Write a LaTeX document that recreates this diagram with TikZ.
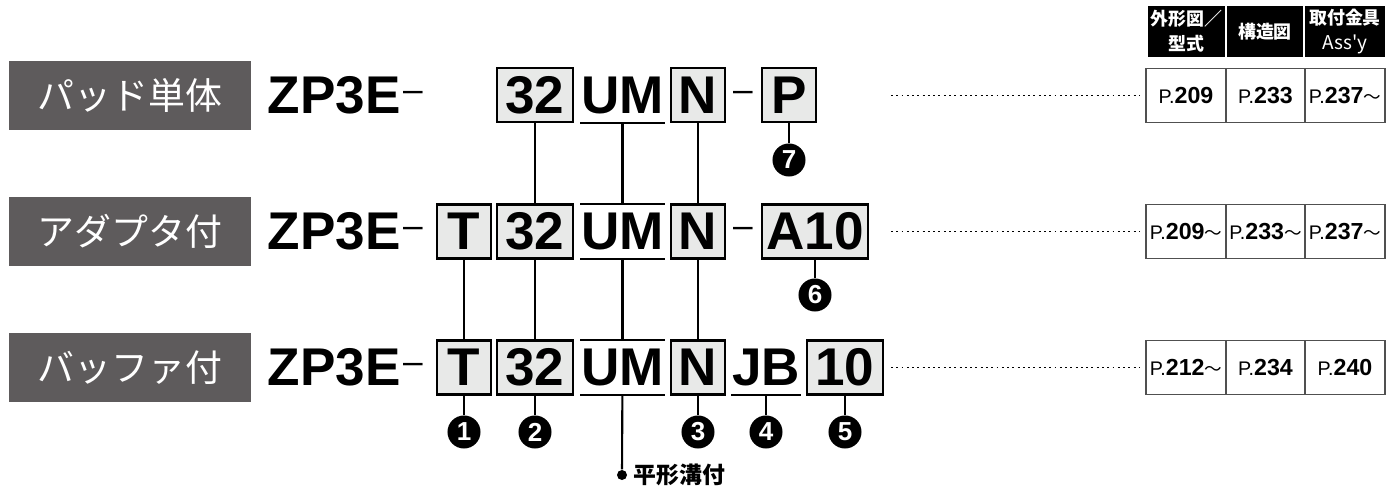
\documentclass[tikz,border=0pt]{standalone}
\usepackage{fontspec}
\setmainfont{Liberation Sans}
\newfontfamily\jpfont{Noto Sans CJK JP}
\definecolor{tagfill}{RGB}{94,91,92}
\definecolor{codefill}{RGB}{232,233,232}
\definecolor{cellline}{RGB}{80,80,80}
\newcommand\codesize{\fontsize{15.1}{18}\selectfont\bfseries}
\newcommand\tagsize{\jpfont\fontsize{10.5}{12}\selectfont}
\newcommand\numsize{\fontsize{7.4}{8}\selectfont\bfseries}
\newcommand\headsize{\jpfont\bfseries\fontsize{5.1}{7.1}\selectfont}
\newcommand\wave{{\jpfont\fontsize{5}{6}\selectfont 〜}}
\newcommand\pg[1]{{\fontsize{5.6}{8}\selectfont P.}{\fontsize{6.6}{8}\selectfont\bfseries #1}}

\begin{document}
\begin{tikzpicture}[x=0.01cm,y=-0.01cm,
  tag/.style={fill=tagfill,text=white,minimum width=2.42cm,minimum height=0.69cm,inner sep=0pt,font=\tagsize},
  model/.style={anchor=west,inner sep=0pt,font=\codesize},
  hyph/.style={anchor=base,inner sep=0pt,font=\fontsize{10}{12}\selectfont},
  code/.style={draw=black,fill=codefill,line width=0.6pt,minimum height=0.54cm,inner sep=0pt,font=\codesize},
  bare/.style={minimum height=0.54cm,inner sep=0pt,font=\codesize},
  bar/.style={line width=0.6pt},
  link/.style={line width=0.6pt},
  num/.style={circle,fill=black,text=white,minimum size=0.33cm,inner sep=0pt,font=\numsize},
  leader/.style={line width=0.55pt,dash pattern=on 0.55pt off 0.95pt,shorten >=1.7pt},
  cell/.style={draw=cellline,line width=0.45pt,minimum height=0.54cm,inner sep=0pt},
  head/.style={fill=black,text=white,minimum height=0.51cm,inner sep=0pt,align=center,font=\headsize}]
\useasboundingbox (0,0) rectangle (1396,491);

\node[tag] (pad) at (130,95.5) {パッド単体};
\node[tag] (adp) at (130,231.5) {アダプタ付};
\node[tag] (buf) at (130,367.5) {バッファ付};

\node[model] (zp1) at (267,95.5) {ZP3E};
\node[model] (zp2) at (267,231.5) {ZP3E};
\node[model] (zp3) at (267,367.5) {ZP3E};
\node[hyph] (da1) at (413,102) {–};
\node[hyph] (da2) at (413,238) {–};
\node[hyph] (da3) at (413,374) {–};

\node[code,minimum width=0.76cm] (sz1) at (535,95) {32};
\node[bare,minimum width=0.83cm] (um1) at (622.5,95) {UM};
\node[code,minimum width=0.54cm] (nn1) at (698,95) {N};
\node[hyph] (db1) at (743,102) {–};
\node[code,minimum width=0.54cm] (pp1) at (789,95) {P};

\node[code,minimum width=0.54cm] (tt2) at (464,231.5) {T};
\node[code,minimum width=0.76cm] (sz2) at (535,231.5) {32};
\node[bare,minimum width=0.83cm] (um2) at (622.5,231.5) {UM};
\node[code,minimum width=0.54cm] (nn2) at (698,231.5) {N};
\node[hyph] (db2) at (743,238) {–};
\node[code,minimum width=1.06cm] (aa2) at (815,231.5) {A10};

\node[code,minimum width=0.54cm] (tt3) at (464,367.5) {T};
\node[code,minimum width=0.76cm] (sz3) at (535,367.5) {32};
\node[bare,minimum width=0.83cm] (um3) at (622.5,367.5) {UM};
\node[code,minimum width=0.54cm] (nn3) at (698,367.5) {N};
\node[bare,minimum width=0.68cm] (jb3) at (766,367.5) {JB};
\node[code,minimum width=0.76cm] (ten3) at (845,367.5) {10};

\draw[bar] (um1.south west) -- (um1.south east);
\draw[bar] (um2.north west) -- (um2.north east);
\draw[bar] (um2.south west) -- (um2.south east);
\draw[bar] (um3.north west) -- (um3.north east);
\draw[bar] (um3.south west) -- (um3.south east);
\draw[bar] (jb3.south west) -- (jb3.south east);

\node[num] (c7) at (789,160) {7};
\node[num] (c6) at (815,295) {6};
\node[num] (c1) at (464,432) {1};
\node[num] (c2) at (535,432) {2};
\node[num] (c3) at (698,432) {3};
\node[num] (c4) at (766,432) {4};
\node[num] (c5) at (845,432) {5};
\node[circle,fill=black,minimum size=0.1cm,inner sep=0pt] (flat) at (622,475) {};
\node[anchor=west,inner sep=0pt,font=\jpfont\bfseries\fontsize{6.5}{8}\selectfont] (flattxt) at (633,475) {平形溝付};

\draw[link] (sz1) -- (sz2);
\draw[link] (sz2) -- (sz3);
\draw[link] (sz3) -- (c2);
\draw[link] (um1) -- (um2);
\draw[link] (um2) -- (um3);
\draw[link] (um3) -- (flat);
\draw[link] (nn1) -- (nn2);
\draw[link] (nn2) -- (nn3);
\draw[link] (nn3) -- (c3);
\draw[link] (tt2) -- (tt3);
\draw[link] (tt3) -- (c1);
\draw[link] (pp1) -- (c7);
\draw[link] (aa2) -- (c6);
\draw[link] (jb3) -- (c4);
\draw[link] (ten3) -- (c5);

\node[head,minimum width=0.77cm] (h1) at (1186.5,31.5) {外形図／\\型式};
\node[head,minimum width=0.76cm] (h2) at (1265,31.5) {構造図};
\node[head,minimum width=0.80cm] (h3) at (1345,31.5) {取付金具\\{\fontsize{5.4}{7}\selectfont\mdseries Ass\textquotesingle y}};

\node[cell,minimum width=0.80cm] (p11) at (1186,95.5) {\pg{209}};
\node[cell,minimum width=0.79cm] (p12) at (1265.5,95.5) {\pg{233}};
\node[cell,minimum width=0.80cm] (p13) at (1345,95.5) {\pg{237}\wave};
\node[cell,minimum width=0.80cm] (p21) at (1186,231.5) {\pg{209}\wave};
\node[cell,minimum width=0.79cm] (p22) at (1265.5,231.5) {\pg{233}\wave};
\node[cell,minimum width=0.80cm] (p23) at (1345,231.5) {\pg{237}\wave};
\node[cell,minimum width=0.80cm] (p31) at (1186,367.5) {\pg{212}\wave};
\node[cell,minimum width=0.79cm] (p32) at (1265.5,367.5) {\pg{234}};
\node[cell,minimum width=0.80cm] (p33) at (1345,367.5) {\pg{240}};

\coordinate (lead1) at (891,95.5);
\coordinate (lead2) at (891,231.5);
\coordinate (lead3) at (891,367.5);
\draw[leader] (lead1) -- (p11);
\draw[leader] (lead2) -- (p21);
\draw[leader] (lead3) -- (p31);
\end{tikzpicture}
\end{document}
